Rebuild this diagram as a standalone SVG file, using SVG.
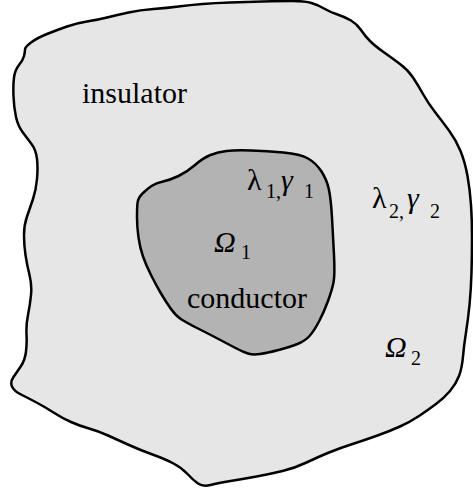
<svg xmlns="http://www.w3.org/2000/svg" width="473" height="494" viewBox="0 0 473 494">
<defs>
<style>
.b{stroke:#000;stroke-width:2.5;stroke-linejoin:round}
</style>
</defs>
<rect width="473" height="494" fill="#fff"/>
<g id="insulator">
<path class="b" fill="#e6e6e6" d="M25,49.5 Q25,47 31,42.5 Q37,38 47,34 Q57,30 67,26.5 Q77,23 87,21.5 Q97,20 107,17.5 Q117,15 128.5,12.5 Q140,10 153.5,9 Q167,8 178.5,6.5 Q190,5 202.5,4 Q215,3 230,2.5 Q245,2 262.5,1.5 Q280,1 292.5,1 Q305,1 311.5,3 Q318,5 324,8.5 Q330,12 337.5,14.5 Q345,17 351,20.5 Q357,24 361,30 Q365,36 370,41 Q375,46 383.5,52 Q392,58 400,64 Q408,70 413,77.5 Q418,85 423,94 Q428,103 435,112 Q442,121 449,130.5 Q456,140 460.5,151 Q465,162 467.5,176 Q470,190 471,205 Q472,220 472,237.5 Q472,255 471.5,272.5 Q471,290 469.5,305 Q468,320 466,332.5 Q464,345 463,356.5 Q462,368 459,376 Q456,384 450,391 Q444,398 436,404 Q428,410 419,416 Q410,422 400,426.5 Q390,431 377.5,435.5 Q365,440 352.5,444 Q340,448 329,452.5 Q318,457 306.5,462.5 Q295,468 282.5,471 Q270,474 256.5,476.5 Q243,479 230.5,481 Q218,483 210.5,485 Q203,487 198,483.5 Q193,480 187.5,474 Q182,468 173.5,463.5 Q165,459 152.5,454.5 Q140,450 129,445 Q118,440 108,435.5 Q98,431 89,428.5 Q80,426 71,422 Q62,418 53.5,412.5 Q45,407 36.5,402.5 Q28,398 21,394.5 Q14,391 12,386.5 Q10,382 13.5,377 Q17,372 21,366 Q25,360 26,351.5 Q27,343 26.5,334 Q26,325 28,315 Q30,305 31,295 Q32,285 29.5,275 Q27,265 25.5,255 Q24,245 24,235 Q24,225 27,216.5 Q30,208 33,199 Q36,190 37,179 Q38,168 37,159 Q36,150 31.5,144 Q27,138 22.5,132 Q18,126 16,117 Q14,108 13.5,96.5 Q13,85 14,77.5 Q15,70 19,65 Q23,60 24,56 Q25,52 25,49.5 Z"/>
<text x="82" y="103" font-family="Liberation Serif" font-size="30">insulator</text>
<text x="372" y="208" font-family="Liberation Serif" font-size="30">&#955;</text>
<text x="389" y="218" font-family="Liberation Serif" font-size="20">2,</text>
<text x="407" y="208" font-family="Liberation Serif" font-size="30" font-style="italic">&#947;</text>
<text x="430" y="218" font-family="Liberation Serif" font-size="20">2</text>
<text x="385" y="357" font-family="Liberation Serif" font-size="30" font-style="italic">&#937;</text>
<text x="411" y="365" font-family="Liberation Serif" font-size="20">2</text>
</g>
<g id="conductor">
<path class="b" fill="#b3b3b3" d="M137.5,203 Q138,198 142.5,193.5 Q147,189 151.5,186 Q156,183 163,181.5 Q170,180 178.5,176 Q187,172 195,165 Q203,158 210.5,155 Q218,152 226.5,151 Q235,150 251,150.5 Q267,151 283.5,152.5 Q300,154 308,158.5 Q316,163 321.5,171.5 Q327,180 329,190 Q331,200 332,217.5 Q333,235 334,255 Q335,275 333.5,282.5 Q332,290 328,301 Q324,312 319,321.5 Q314,331 309.5,336 Q305,341 297.5,344 Q290,347 278.5,350 Q267,353 260,354 Q253,355 248,353.5 Q243,352 235.5,348 Q228,344 217.5,338.5 Q207,333 197,328 Q187,323 181.5,319.5 Q176,316 171,309 Q166,302 161,293.5 Q156,285 151,275 Q146,265 143,256.5 Q140,248 138.5,237.5 Q137,227 137,217.5 Q137,208 137.5,203 Z"/>
<text x="247" y="190" font-family="Liberation Serif" font-size="30">&#955;</text>
<text x="266" y="198" font-family="Liberation Serif" font-size="20">1,</text>
<text x="281" y="190" font-family="Liberation Serif" font-size="30" font-style="italic">&#947;</text>
<text x="304" y="198" font-family="Liberation Serif" font-size="20">1</text>
<text x="214" y="252" font-family="Liberation Serif" font-size="30" font-style="italic">&#937;</text>
<text x="241" y="259" font-family="Liberation Serif" font-size="20">1</text>
<text x="187" y="308" font-family="Liberation Serif" font-size="30">conductor</text>
</g>
<g id="connectors"></g>
</svg>
